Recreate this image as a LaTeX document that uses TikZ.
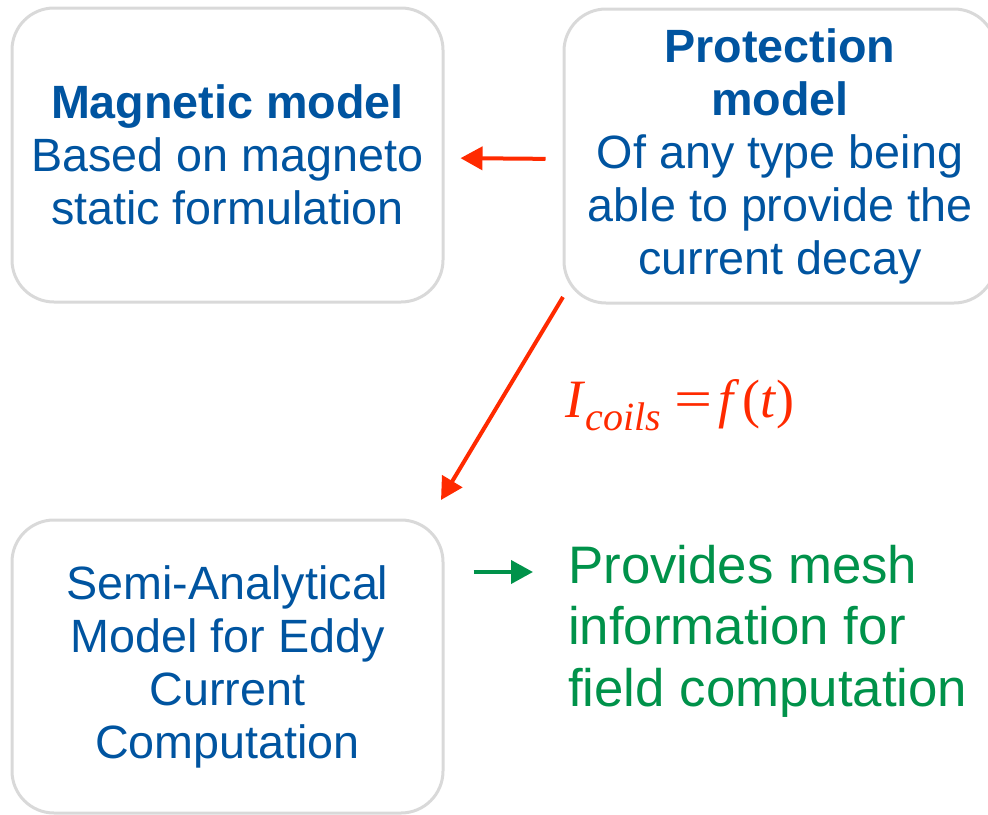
\documentclass[tikz,border=0pt]{standalone}
\usepackage{fontspec}
\usepackage{graphicx}
\setmainfont{Liberation Sans}
\newfontfamily\formulafont{Liberation Serif}
\usetikzlibrary{arrows.meta}

\definecolor{boxgray}{HTML}{D9D9D9}
\definecolor{textblue}{HTML}{0054A0}
\definecolor{arrowred}{HTML}{FF2A00}
\definecolor{meshgreen}{HTML}{00924A}

\tikzset{
  modelbox/.style={draw=boxgray, line width=3pt, rounded corners=42pt,
    align=center, text=textblue, inner sep=0pt,
    font=\fontsize{46.7}{53}\selectfont},
  redarrow/.style={draw=arrowred, line width=4pt,
    -{Triangle[length=22pt, width=23pt]}},
  greenarrow/.style={draw=meshgreen, line width=4pt,
    -{Triangle[length=22pt, width=23pt]}},
}

\begin{document}
\begin{tikzpicture}[x=1pt, y=-1pt]
  \useasboundingbox (0,0) rectangle (988,814);
  \clip (0,0) rectangle (988,814);

  % the three model boxes
  \node[modelbox, minimum width=431pt, minimum height=294pt] (mag) at (227.5,155)
    {\textbf{Magnetic model}\\Based on magneto\\static formulation};
  \node[modelbox, minimum width=432pt, minimum height=294pt] (prot) at (780,156)
    {\textbf{Protection}\\\textbf{model}\\Of any type being\\able to provide the\\current decay};
  \node[modelbox, minimum width=431pt, minimum height=293pt] (semi) at (227.5,666.5)
    {Semi-Analytical\\Model for Eddy\\Current\\Computation};

  % output of the eddy current model
  \node[anchor=west, align=left, text=meshgreen, inner sep=0pt,
    font=\fontsize{52.8}{61.5}\selectfont] (mesh) at (568,631)
    {Provides mesh\\information for\\field computation};

  % coil current law
  \node[anchor=base west, inner sep=0pt, text=arrowred] (law) at (565,417)
    {\formulafont\fontsize{54}{54}\selectfont
     \textit{I}\raisebox{-13pt}{\fontsize{40}{40}\selectfont\textit{coils}}%
     \hspace{14pt}\scalebox{1.25}[1]{=}\hspace{6pt}\textit{f}\hspace{2pt}(\textit{t})};

  % connectors
  \draw[redarrow, shorten <=17pt, shorten >=16pt]
    ([yshift=-3pt]prot.west) -- ([yshift=-3pt]mag.east);
  \coordinate (lawfrom) at (563,297);
  \coordinate (lawto) at (441,500);
  \draw[redarrow] (lawfrom) -- (lawto);
  \coordinate (gy) at (0,572);
  \draw[greenarrow, shorten <=29pt, shorten >=35pt]
    (semi.east |- gy) -- (mesh.west |- gy);
\end{tikzpicture}
\end{document}
